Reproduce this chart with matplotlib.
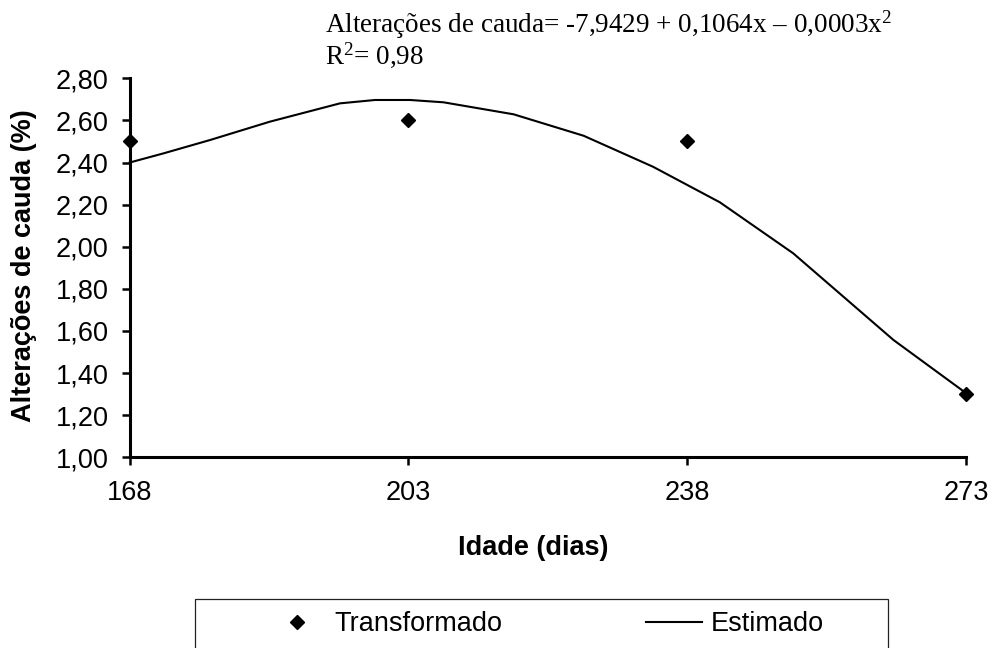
import matplotlib
matplotlib.use("Agg")
import matplotlib.pyplot as plt
from matplotlib.patches import Rectangle
from matplotlib.lines import Line2D

# observed (transformed) values
idade = [168, 203, 238, 273]
transformado = [2.50, 2.60, 2.50, 1.30]

# estimated curve
idade_est = [168, 172.2, 178.1, 185.6, 194.4, 198.8, 203.2, 207.4, 216.2,
             225.0, 233.7, 242.1, 251.3, 263.9, 273]
estimado = [2.40, 2.443, 2.507, 2.594, 2.681, 2.697, 2.697, 2.686, 2.629,
            2.527, 2.380, 2.211, 1.969, 1.557, 1.305]

x_ticks = [168, 203, 238, 273]
y_ticks = [1.00, 1.20, 1.40, 1.60, 1.80, 2.00, 2.20, 2.40, 2.60, 2.80]

plt.rcParams["font.family"] = ["Liberation Sans", "DejaVu Sans"]
plt.rcParams["mathtext.fontset"] = "custom"
plt.rcParams["mathtext.rm"] = "Liberation Serif"
plt.rcParams["mathtext.it"] = "Liberation Serif:italic"
plt.rcParams["mathtext.default"] = "rm"
FS = 19.5

W, H = 993, 648
fig = plt.figure(figsize=(W / 100, H / 100), dpi=100)
ax = fig.add_axes([129.7 / W, 1 - 457.3 / H, (966 - 129.7) / W, (457.3 - 78.3) / H])

ax.plot(idade_est, estimado, color="black", lw=1.5, clip_on=False, zorder=2)
ax.plot(idade, transformado, "D", color="black", ms=7.5, clip_on=False, zorder=3)

ax.set_xlim(168, 273)
ax.set_ylim(1.0, 2.8)
ax.set_xticks(x_ticks)
ax.set_xticklabels([str(v) for v in x_ticks])
ax.set_yticks(y_ticks)
ax.set_yticklabels([f"{v:.2f}".replace(".", ",") for v in y_ticks])

for s in ["top", "right"]:
    ax.spines[s].set_visible(False)
for s in ["left", "bottom"]:
    ax.spines[s].set_linewidth(2.2)
ax.tick_params(axis="both", direction="out", length=6, width=1.8, labelsize=FS)
ax.tick_params(axis="y", pad=9)
ax.tick_params(axis="x", pad=10)

fig.text(24 / W, 1 - 266 / H, "Alterações de cauda (%)", rotation=90,
         ha="center", va="center", fontsize=FS, fontweight="bold")
fig.text(533 / W, 1 - 548 / H, "Idade (dias)", ha="center", va="center",
         fontsize=FS, fontweight="bold")

# regression equation
fig.text(325 / W, 1 - 33 / H,
         "Alterações de cauda= -7,9429 + 0,1064x – 0,0003x$^{2}$",
         family="Liberation Serif", fontsize=FS, va="baseline")
fig.text(325 / W, 1 - 64 / H, "R$^{2}$= 0,98", family="Liberation Serif",
         fontsize=FS, va="baseline")

# legend box (runs off the bottom edge)
fig.patches.append(Rectangle((195 / W, -0.1), (888 - 195) / W, 0.1 + 1 - 599 / H,
                             transform=fig.transFigure, fill=False,
                             edgecolor="#222222", lw=0.9))
handles = [Line2D([], [], ls="none", marker="D", color="black", ms=7.5),
           Line2D([], [], color="black", lw=1.5)]
fig.legend(handles, ["Transformado", "Estimado"], ncol=2, frameon=False,
           loc="center left", bbox_to_anchor=(269 / W, 1 - 624 / H),
           borderpad=0, borderaxespad=0, handlelength=2.07, handletextpad=0.33,
           columnspacing=5.3, fontsize=FS)

fig.savefig("out.png", dpi=100)
